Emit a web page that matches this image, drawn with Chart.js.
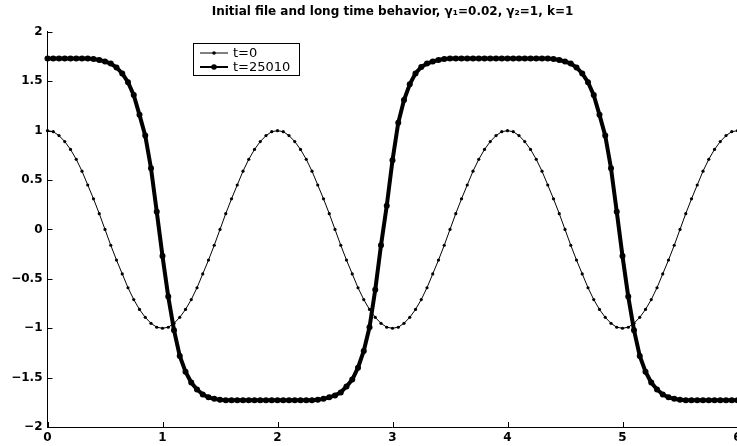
<!DOCTYPE html>
<html lang="en">
<head>
  <meta charset="UTF-8">
  <title>Initial file and long time behavior</title>
  <script src="https://cdn.jsdelivr.net/npm/chart.js"></script>
  <style>
    html, body { margin: 0; padding: 0; background: #fff; overflow: hidden; }
    #wrap { width: 750px; height: 446px; }
  </style>
</head>
<body>
  <div id="wrap">
    <canvas id="grafico" width="750" height="446"></canvas>
  </div>

  <script>
    // x positions of the samples
    const xs = [
      0.00, 0.05, 0.10, 0.15, 0.20, 0.25, 0.30, 0.35, 0.40, 0.45,
      0.50, 0.55, 0.60, 0.65, 0.70, 0.75, 0.80, 0.85, 0.90, 0.95,
      1.00, 1.05, 1.10, 1.15, 1.20, 1.25, 1.30, 1.35, 1.40, 1.45,
      1.50, 1.55, 1.60, 1.65, 1.70, 1.75, 1.80, 1.85, 1.90, 1.95,
      2.00, 2.05, 2.10, 2.15, 2.20, 2.25, 2.30, 2.35, 2.40, 2.45,
      2.50, 2.55, 2.60, 2.65, 2.70, 2.75, 2.80, 2.85, 2.90, 2.95,
      3.00, 3.05, 3.10, 3.15, 3.20, 3.25, 3.30, 3.35, 3.40, 3.45,
      3.50, 3.55, 3.60, 3.65, 3.70, 3.75, 3.80, 3.85, 3.90, 3.95,
      4.00, 4.05, 4.10, 4.15, 4.20, 4.25, 4.30, 4.35, 4.40, 4.45,
      4.50, 4.55, 4.60, 4.65, 4.70, 4.75, 4.80, 4.85, 4.90, 4.95,
      5.00, 5.05, 5.10, 5.15, 5.20, 5.25, 5.30, 5.35, 5.40, 5.45,
      5.50, 5.55, 5.60, 5.65, 5.70, 5.75, 5.80, 5.85, 5.90, 5.95,
      6.00
    ];

    // t=0 (perfil inicial)
    const perfilInicial = [
      1.00, 0.99, 0.95, 0.89, 0.81, 0.71, 0.59, 0.45, 0.31, 0.16,
      0.00, -0.16, -0.31, -0.45, -0.59, -0.71, -0.81, -0.89, -0.95, -0.99,
      -1.00, -0.99, -0.95, -0.89, -0.81, -0.71, -0.59, -0.45, -0.31, -0.16,
      0.00, 0.16, 0.31, 0.45, 0.59, 0.71, 0.81, 0.89, 0.95, 0.99,
      1.00, 0.99, 0.95, 0.89, 0.81, 0.71, 0.59, 0.45, 0.31, 0.16,
      0.00, -0.16, -0.31, -0.45, -0.59, -0.71, -0.81, -0.89, -0.95, -0.99,
      -1.00, -0.99, -0.95, -0.89, -0.81, -0.71, -0.59, -0.45, -0.31, -0.16,
      0.00, 0.16, 0.31, 0.45, 0.59, 0.71, 0.81, 0.89, 0.95, 0.99,
      1.00, 0.99, 0.95, 0.89, 0.81, 0.71, 0.59, 0.45, 0.31, 0.16,
      0.00, -0.16, -0.31, -0.45, -0.59, -0.71, -0.81, -0.89, -0.95, -0.99,
      -1.00, -0.99, -0.95, -0.89, -0.81, -0.71, -0.59, -0.45, -0.31, -0.16,
      0.00, 0.16, 0.31, 0.45, 0.59, 0.71, 0.81, 0.89, 0.95, 0.99,
      1.00
    ];

    // t=25010 (comportamiento a tiempo largo)
    const perfilFinal = [
      1.73, 1.73, 1.73, 1.73, 1.73, 1.73, 1.73, 1.73, 1.725, 1.715,
      1.70, 1.68, 1.64, 1.58, 1.49, 1.36, 1.16, 0.95, 0.62, 0.18,
      -0.27, -0.68, -1.02, -1.28, -1.44, -1.55, -1.62, -1.67, -1.70, -1.715,
      -1.725, -1.73, -1.73, -1.73, -1.73, -1.73, -1.73, -1.73, -1.73, -1.73,
      -1.73, -1.73, -1.73, -1.73, -1.73, -1.73, -1.73, -1.725, -1.715, -1.70,
      -1.68, -1.65, -1.59, -1.52, -1.40, -1.23, -0.99, -0.61, -0.16, 0.24,
      0.70, 1.08, 1.31, 1.47, 1.58, 1.645, 1.68, 1.70, 1.715, 1.725,
      1.73, 1.73, 1.73, 1.73, 1.73, 1.73, 1.73, 1.73, 1.73, 1.73,
      1.73, 1.73, 1.73, 1.73, 1.73, 1.73, 1.73, 1.73, 1.725, 1.715,
      1.70, 1.68, 1.64, 1.58, 1.49, 1.36, 1.16, 0.95, 0.62, 0.18,
      -0.27, -0.68, -1.02, -1.28, -1.44, -1.55, -1.62, -1.67, -1.70, -1.715,
      -1.725, -1.73, -1.73, -1.73, -1.73, -1.73, -1.73, -1.73, -1.73, -1.73,
      -1.73
    ];

    const etiquetas = ["t=0", "t=25010"];
    const titulo = "Initial file and long time behavior, \u03b3\u2081=0.02, \u03b3\u2082=1, k=1";
    const xTicks = [0, 1, 2, 3, 4, 5, 6];
    const yTicks = [-2, -1.5, -1, -0.5, 0, 0.5, 1, 1.5, 2];

    // ticks hacia dentro, como en MATLAB
    const ticksDentro = {
      id: "ticksDentro",
      afterDatasetsDraw(chart) {
        const { ctx, chartArea, scales } = chart;
        ctx.save();
        ctx.strokeStyle = "#000";
        ctx.lineWidth = 1;
        ctx.beginPath();
        xTicks.forEach(v => {
          const px = Math.round(scales.x.getPixelForValue(v)) + 0.5;
          ctx.moveTo(px, chartArea.bottom);
          ctx.lineTo(px, chartArea.bottom - 5);
        });
        yTicks.forEach(v => {
          const py = Math.round(scales.y.getPixelForValue(v)) + 0.5;
          ctx.moveTo(chartArea.left, py);
          ctx.lineTo(chartArea.left + 5, py);
        });
        ctx.stroke();
        ctx.restore();
      }
    };

    // leyenda dentro del area, con caja
    const leyenda = {
      id: "leyenda",
      afterDraw(chart) {
        const { ctx } = chart;
        const x0 = 193.5, y0 = 43.5, w = 106, h = 32;
        ctx.save();
        ctx.fillStyle = "#fff";
        ctx.fillRect(x0, y0, w, h);
        ctx.strokeStyle = "#000";
        ctx.lineWidth = 1;
        ctx.strokeRect(x0, y0, w, h);

        const filas = [53, 67];
        chart.data.datasets.forEach((ds, i) => {
          const y = filas[i];
          ctx.strokeStyle = "#000";
          ctx.lineWidth = i === 0 ? 1 : 2;
          ctx.beginPath();
          ctx.moveTo(200, y);
          ctx.lineTo(228, y);
          ctx.stroke();
          ctx.fillStyle = "#000";
          ctx.beginPath();
          ctx.arc(214, y, i === 0 ? 1.8 : 2.8, 0, Math.PI * 2);
          ctx.fill();
          ctx.font = "13px 'DejaVu Sans'";
          ctx.textBaseline = "middle";
          ctx.textAlign = "left";
          ctx.fillText(ds.label, 233, y + 0.5);
        });
        ctx.restore();
      }
    };

    const fuenteTicks = { family: "'DejaVu Sans'", size: 12, weight: "bold" };

    const grafico = new Chart(document.getElementById("grafico"), {
      type: "line",
      data: {
        datasets: [
          {
            label: etiquetas[0],
            data: xs.map((x, i) => ({ x: x, y: perfilInicial[i] })),
            borderColor: "#000",
            backgroundColor: "#000",
            borderWidth: 1,
            pointRadius: 1.6,
            pointBorderWidth: 0,
            pointBackgroundColor: "#000",
            tension: 0,
            clip: false
          },
          {
            label: etiquetas[1],
            data: xs.map((x, i) => ({ x: x, y: perfilFinal[i] })),
            borderColor: "#000",
            backgroundColor: "#000",
            borderWidth: 4,
            pointRadius: 3,
            pointBorderWidth: 0,
            pointBackgroundColor: "#000",
            tension: 0,
            clip: false
          }
        ]
      },
      options: {
        responsive: false,
        animation: false,
        events: [],
        layout: { padding: { left: 0, right: 12.5, top: 0, bottom: 0 } },
        plugins: {
          legend: { display: false },
          tooltip: { enabled: false },
          title: {
            display: true,
            text: titulo,
            fullSize: false,
            color: "#000",
            font: { family: "'DejaVu Sans'", size: 12, weight: "bold", lineHeight: 1.2 },
            padding: { top: 5, bottom: 12.5 }
          }
        },
        scales: {
          x: {
            type: "linear",
            min: 0,
            max: 6,
            grid: { display: false, drawTicks: false },
            border: { display: true, color: "#000", width: 1 },
            afterBuildTicks: scale => { scale.ticks = xTicks.map(v => ({ value: v })); },
            afterFit: scale => { scale.height = 19; },
            ticks: { color: "#000", font: fuenteTicks, padding: 4, maxRotation: 0, autoSkip: false }
          },
          y: {
            type: "linear",
            min: -2,
            max: 2,
            grid: { display: false, drawTicks: false },
            border: { display: true, color: "#000", width: 1 },
            afterBuildTicks: scale => { scale.ticks = yTicks.map(v => ({ value: v })); },
            afterFit: scale => { scale.width = 47.5; },
            ticks: {
              color: "#000",
              font: fuenteTicks,
              padding: 5,
              autoSkip: false,
              callback: v => String(v).replace("-", "\u2212")
            }
          }
        }
      },
      plugins: [ticksDentro, leyenda]
    });
  </script>
</body>
</html>
